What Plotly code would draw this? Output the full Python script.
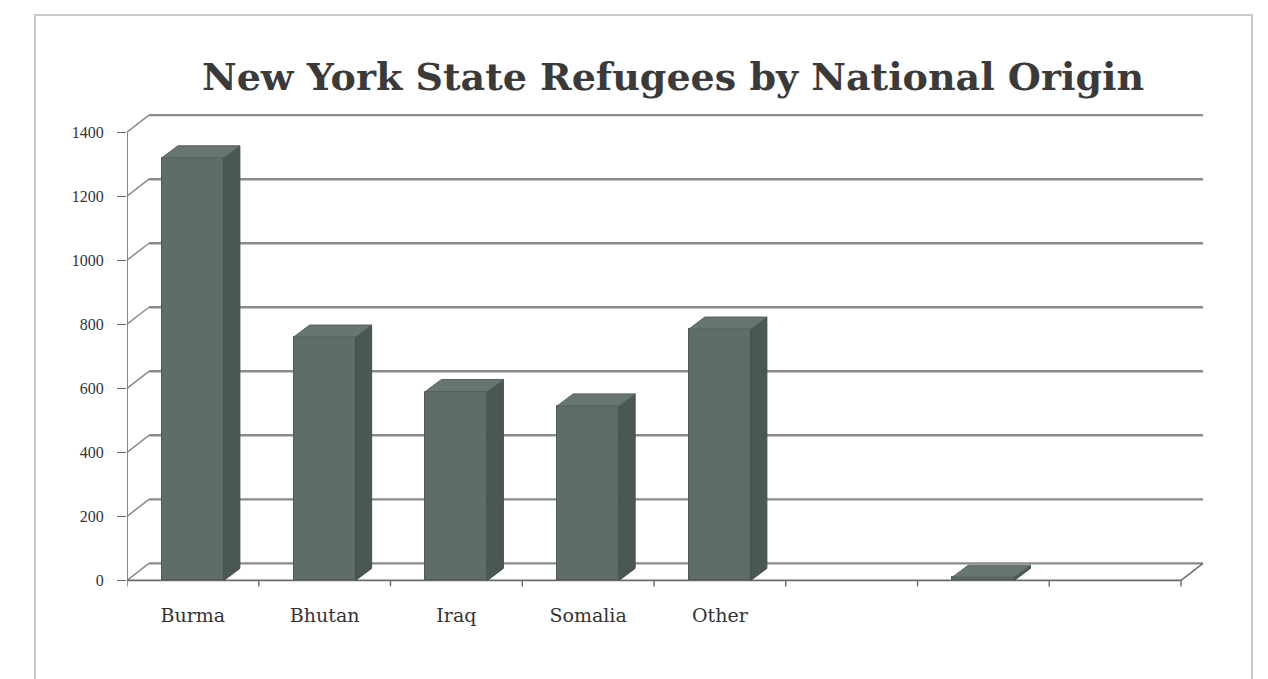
import plotly.graph_objects as go

# ---------------- data ----------------
categories = ["Burma", "Bhutan", "Iraq", "Somalia", "Other", "", "", ""]
values = [1320, 760, 590, 545, 785, None, 10, None]
y_ticks = [0, 200, 400, 600, 800, 1000, 1200, 1400]
title_text = "New York State Refugees by National Origin"

# ---------------- geometry (pixels -> data units) ----------------
W, H = 1268, 679
SLOT_PX = 131.75          # pixels per category slot
UNIT_PX = 0.32            # pixels per value unit
L_PX = 127                # left edge of plot (front y axis)
ZERO_PX = 580             # pixel row of value 0 on the front plane
x_range = [-0.5, 7.72]
y_range = [-30, 1463]
plot_w = (x_range[1] - x_range[0]) * SLOT_PX
plot_h = (y_range[1] - y_range[0]) * UNIT_PX
top_px = ZERO_PX - y_range[1] * UNIT_PX
m_l, m_t = L_PX, top_px
m_r = W - L_PX - plot_w
m_b = H - top_px - plot_h

WDX = 22 / SLOT_PX        # back-wall depth offset (x)
WDY = 17 / UNIT_PX        # back-wall depth offset (y)
HW = 31 / SLOT_PX         # half width of bar front face
BDX = 16 / SLOT_PX        # bar depth (x)
BDY = 12 / UNIT_PX        # bar depth (y)

FRONT = "#5e6d68"
SIDE = "#4a5753"
TOP = "#67766f"
GRID = "#8a8a8a"
AXIS = "#6a6a6a"

n = len(categories)
xs = list(range(n))
x_lo, x_hi = -0.5, n - 0.5

shapes = []
# back wall gridlines + left-wall connectors
for v in y_ticks:
    shapes.append(dict(type="line", xref="x", yref="y", layer="below",
                       x0=x_lo, y0=v, x1=x_lo + WDX, y1=v + WDY,
                       line=dict(color=GRID, width=1.5)))
    shapes.append(dict(type="line", xref="x", yref="y", layer="below",
                       x0=x_lo + WDX, y0=v + WDY, x1=x_hi + WDX, y1=v + WDY,
                       line=dict(color=GRID, width=2.4)))
# floor front edge and right edge
shapes.append(dict(type="line", xref="x", yref="y", layer="below",
                   x0=x_lo, y0=0, x1=x_hi, y1=0, line=dict(color=AXIS, width=1.6)))
shapes.append(dict(type="line", xref="x", yref="y", layer="below",
                   x0=x_hi, y0=0, x1=x_hi + WDX, y1=WDY, line=dict(color=AXIS, width=1.4)))
# front y axis line
shapes.append(dict(type="line", xref="x", yref="y", layer="below",
                   x0=x_lo, y0=0, x1=x_lo, y1=y_ticks[-1], line=dict(color=AXIS, width=1.6)))
# category boundary tick marks
for k in range(n + 1):
    b = x_lo + k
    shapes.append(dict(type="line", xref="x", yref="y", layer="below",
                       x0=b, y0=0, x1=b, y1=-6 / UNIT_PX, line=dict(color=AXIS, width=1.4)))


def px_to_paper_x(px):
    return (px - m_l) / plot_w


def px_to_paper_y(py):
    return 1 - (py - m_t) / plot_h


# outer frame of the scanned chart
shapes.append(dict(type="rect", xref="paper", yref="paper", layer="below",
                   x0=px_to_paper_x(35), y0=px_to_paper_y(700),
                   x1=px_to_paper_x(1252), y1=px_to_paper_y(15),
                   line=dict(color="#c9c9c9", width=2), fillcolor="rgba(0,0,0,0)"))

fig = go.Figure()

# front faces of the bars
fig.add_trace(go.Bar(x=xs, y=values, width=2 * HW, base=0,
                     marker=dict(color=FRONT, line=dict(color="#4d5a56", width=1)),
                     hoverinfo="x+y", showlegend=False))

# side and top faces (3-D look), built from the values
side_x, side_y, top_x, top_y = [], [], [], []
for i, v in zip(xs, values):
    if v is None:
        continue
    side_x += [i + HW, i + HW + BDX, i + HW + BDX, i + HW, i + HW, None]
    side_y += [0, BDY, v + BDY, v, 0, None]
    top_x += [i - HW, i - HW + BDX, i + HW + BDX, i + HW, i - HW, None]
    top_y += [v, v + BDY, v + BDY, v, v, None]

fig.add_trace(go.Scatter(x=side_x, y=side_y, mode="lines", fill="toself",
                         fillcolor=SIDE, line=dict(color="#434f4b", width=1),
                         hoverinfo="skip", showlegend=False))
fig.add_trace(go.Scatter(x=top_x, y=top_y, mode="lines", fill="toself",
                         fillcolor=TOP, line=dict(color="#55625e", width=1),
                         hoverinfo="skip", showlegend=False))

fig.update_layout(
    width=W, height=H,
    margin=dict(l=m_l, r=m_r, t=m_t, b=m_b, autoexpand=False),
    paper_bgcolor="white", plot_bgcolor="white",
    title=dict(text="<b>" + title_text + "</b>", x=673 / W, xanchor="center",
               y=1 - 77 / H, yanchor="middle", yref="container",
               font=dict(family="DejaVu Serif", size=38, color="#3a3a3a")),
    xaxis=dict(range=x_range, tickmode="array", tickvals=xs, ticktext=categories,
               showgrid=False, zeroline=False, showline=False, ticks="",
               ticklabelstandoff=12,
               tickfont=dict(family="DejaVu Serif", size=19, color="#333333")),
    yaxis=dict(range=y_range, tickmode="array", tickvals=y_ticks,
               ticktext=[str(t) for t in y_ticks],
               showgrid=False, zeroline=False, showline=False,
               ticks="outside", ticklen=9, tickcolor=AXIS, tickwidth=1.4,
               ticklabelstandoff=10,
               tickfont=dict(family="Liberation Serif", size=16, color="#333333")),
    shapes=shapes,
    bargap=0,
)

fig.write_html("out.html")
